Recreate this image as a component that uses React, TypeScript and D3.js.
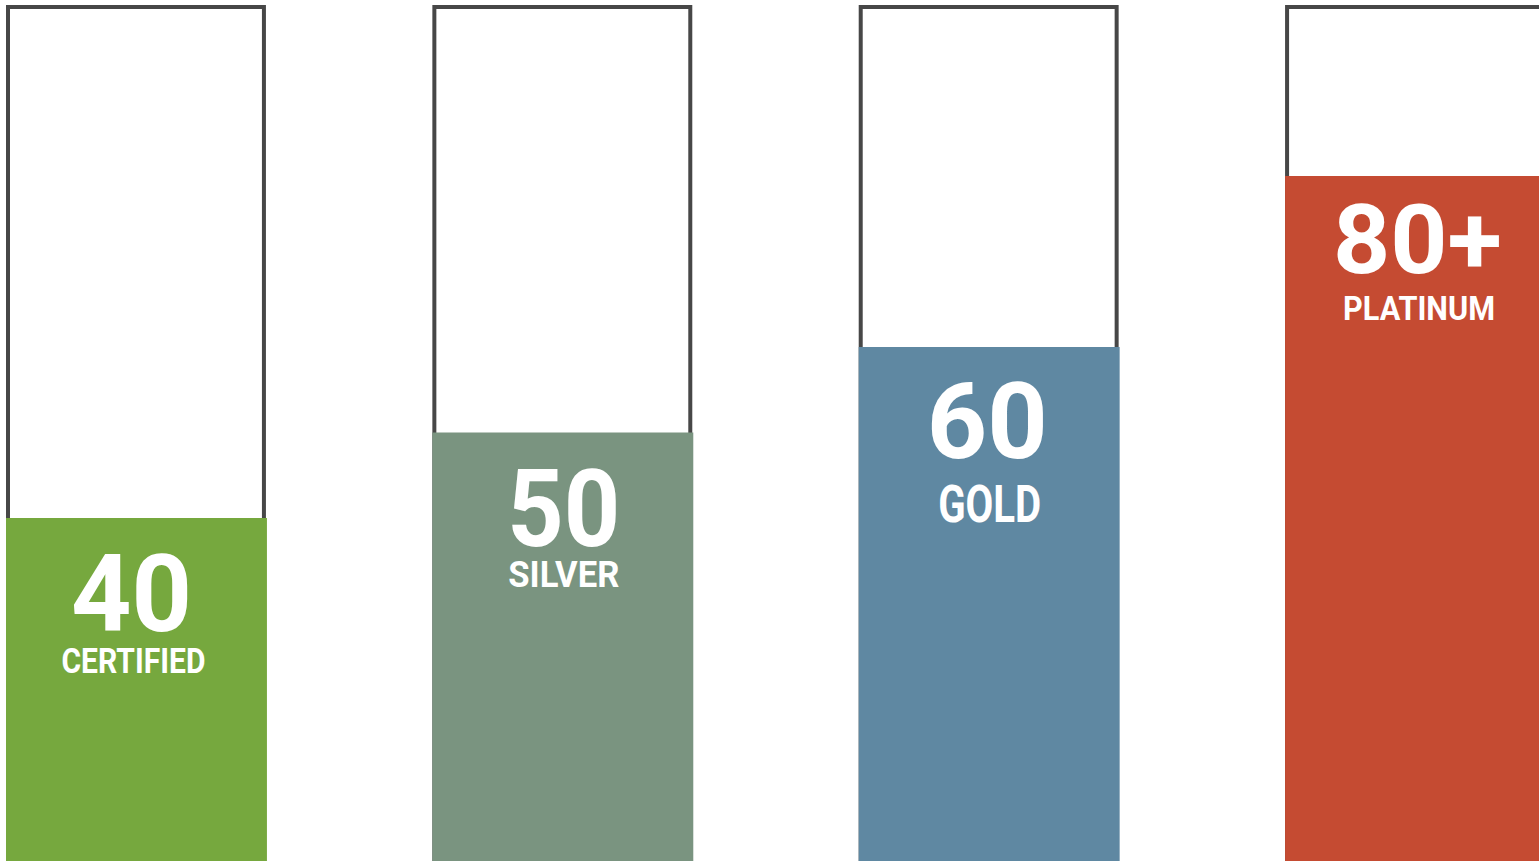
import React from "react";
import * as d3 from "d3";

const categories = ["CERTIFIED", "SILVER", "GOLD", "PLATINUM"];
const values = [40, 50, 60, 80];
const valueLabels = ["40", "50", "60", "80+"];
const maxValue = 100;

const colors = ["#76a83e", "#7a9480", "#5f88a2", "#c54b32"];

// text styling per bar (font size, fitted width, offsets from bar centre / top)
const numberStyle = [
  { fs: 108, w: 121, dx: -5, dy: 113 },
  { fs: 108, w: 113, dx: 1, dy: 113 },
  { fs: 106, w: 121, dx: -2, dy: 111 },
  { fs: 96, w: 169, dx: 2, dy: 97 },
];
const labelStyle = [
  { fs: 35, w: 144, dx: -3, dy: 155 },
  { fs: 36, w: 111, dx: 1, dy: 154 },
  { fs: 52, w: 103, dx: 0.5, dy: 175 },
  { fs: 33, w: 152, dx: 3.5, dy: 144 },
];

const W = 1539;
const H = 861;

export default function App() {
  const x = d3
    .scaleBand<string>()
    .domain(categories)
    .range([6, 1546])
    .paddingInner(0.388)
    .paddingOuter(0);
  const y = d3.scaleLinear().domain([0, maxValue]).range([860, 5]);
  const bw = x.bandwidth();

  return (
    <svg
      width={W}
      height={H}
      style={{ position: "absolute", left: 0, top: 0, background: "#fff" }}
      fontFamily="Roboto, 'Noto Sans', sans-serif"
    >
      {categories.map((c, i) => {
        const x0 = x(c) as number;
        const top = y(values[i]);
        const cx = x0 + bw / 2;
        return (
          <g key={c}>
            <rect
              x={x0 + 2}
              y={y(maxValue) + 2}
              width={bw - 5}
              height={y(0) - y(maxValue)}
              fill="#fff"
              stroke="#474747"
              strokeWidth={4}
            />
            <rect x={x0} y={top} width={bw} height={H - top + 2} fill={colors[i]} />
            <text
              x={cx + numberStyle[i].dx}
              y={top + numberStyle[i].dy}
              textAnchor="middle"
              fill="#fff"
              fontWeight={700}
              fontSize={numberStyle[i].fs}
              textLength={numberStyle[i].w}
              lengthAdjust="spacingAndGlyphs"
            >
              {valueLabels[i]}
            </text>
            <text
              x={cx + labelStyle[i].dx}
              y={top + labelStyle[i].dy}
              textAnchor="middle"
              fill="#fff"
              fontWeight={700}
              fontSize={labelStyle[i].fs}
              textLength={labelStyle[i].w}
              lengthAdjust="spacingAndGlyphs"
            >
              {c}
            </text>
          </g>
        );
      })}
    </svg>
  );
}
